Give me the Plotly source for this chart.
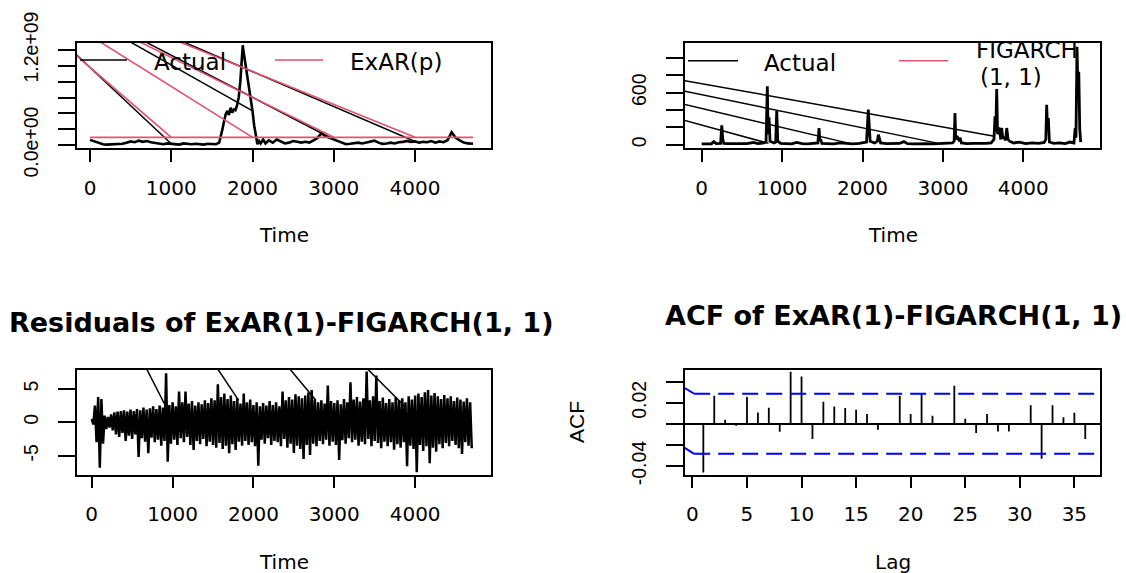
import plotly.graph_objects as go

W, H = 1126, 573
FONT = "DejaVu Sans"
NARROW = "Liberation Sans"
BLACK = "#000000"
RED = "#DF536B"
BLUE = "#0000FF"

# ---------------- data ----------------
time_ticks = [0, 1000, 2000, 3000, 4000]

# Top-left: actual series (units of 1e8) and ExAR(p) fit
actual_t = [0, 40, 80, 120, 160, 200, 250, 300, 350, 400, 450, 500, 550, 600, 650, 700, 750, 800,
            850, 900, 950, 1000, 1050, 1100, 1150, 1200, 1250, 1300, 1350, 1400, 1450, 1500, 1550,
            1590, 1610, 1630, 1650, 1670, 1690, 1710, 1730, 1750, 1770, 1790, 1810, 1830, 1850, 1865,
            1880, 1890, 1905, 1920, 1940, 1960, 1980, 2000, 2020, 2040, 2060, 2080, 2100, 2130, 2160,
            2200, 2250, 2300, 2350, 2400, 2450, 2500, 2550, 2600, 2650, 2700, 2750, 2800, 2850, 2900,
            2950, 3000, 3050, 3100, 3150, 3200, 3250, 3300, 3350, 3400, 3450, 3500, 3550, 3600, 3650,
            3700, 3750, 3800, 3850, 3900, 3950, 4000, 4050, 4100, 4150, 4200, 4250, 4300, 4350, 4400,
            4450, 4500, 4550, 4600, 4650, 4714]
actual_v = [0.65, 0.5, 0.35, 0.2, 0.1, 0.05, 0.08, 0.1, 0.05, 0.15, 0.3, 0.45, 0.35, 0.55, 0.4, 0.5, 0.35, 0.25,
            0.15, 0.1, 0.2, 0.15, 0.1, 0.05, 0.2, 0.15, 0.1, 0.15, 0.1, 0.05, 0.15, 0.1, 0.1,
            0.3, 1.0, 2.0, 3.0, 3.9, 4.3, 3.8, 4.7, 4.1, 4.5, 4.4, 5.0, 6.0, 8.0, 10.5,
            12.6, 11.8, 10.8, 9.8, 8.5, 7.2, 5.8, 4.3, 2.5, 1.0, 0.1, 0.5, 0.2, 0.7, 0.2,
            0.6, 0.3, 0.7, 0.4, 0.2, 0.3, 0.5, 0.4, 0.3, 0.4, 0.3, 0.6, 0.9, 1.5, 1.1,
            0.9, 0.7, 0.4, 0.2, 0.1, 0.15, 0.2, 0.3, 0.2, 0.35, 0.4, 0.55, 0.3, 0.15, 0.2,
            0.3, 0.2, 0.35, 0.4, 0.5, 0.4, 0.45, 0.3, 0.4, 0.35, 0.5, 0.3, 0.45, 0.35, 0.6,
            1.6, 0.9, 0.6, 0.3, 0.2, 0.15]
exar_t = [0, 4714]
exar_v = [0.97, 0.97]
actual_unit = 1e8
top_left_wrap_t = [1000, 2000, 3000, 4000]
actual_wrap_origin = [-1588, 25.1]
exar_wrap_origin = [-1662, 24.5]
tl_yticks = [0, 2e8, 4e8, 6e8, 8e8, 1e9, 1.2e9]
tl_yticktext = ["0.0e+00", "", "", "", "", "", "1.2e+09"]

# Top-right: FIGARCH(1,1) series
figarch_t = [0, 60, 120, 150, 180, 235, 249, 262, 275, 320, 400, 480, 560, 640, 700, 760, 800, 816, 826, 837,
             850, 900, 920, 933, 946, 980, 1050, 1120, 1180, 1250, 1320, 1400, 1445, 1459, 1470, 1480, 1495,
             1560, 1640, 1720, 1800, 1880, 1960, 2050, 2072, 2082, 2095, 2150, 2185, 2197, 2210, 2225, 2300,
             2380, 2460, 2514, 2560, 2640, 2720, 2800, 2880, 2960, 3040, 3120, 3140, 3150, 3160, 3175, 3205,
             3213, 3230, 3300, 3380, 3460, 3540, 3600, 3635, 3648, 3658, 3669, 3680, 3700, 3720, 3731, 3745,
             3760, 3780, 3794, 3810, 3830, 3880, 3950, 4030, 4110, 4190, 4260, 4280, 4291, 4300, 4311, 4325,
             4380, 4450, 4520, 4580, 4630, 4645, 4655, 4668, 4680, 4690, 4702, 4714]
figarch_v = [10, 12, 10, 35, 12, 15, 224, 60, 15, 12, 10, 14, 12, 25, 12, 18, 30, 673, 120, 316,
             40, 20, 30, 392, 40, 15, 12, 10, 25, 12, 10, 15, 20, 192, 40, 60, 15,
             12, 10, 20, 12, 10, 15, 30, 404, 250, 40, 20, 40, 115, 80, 20, 12,
             10, 14, 35, 12, 10, 15, 12, 10, 12, 15, 20, 40, 365, 60, 100, 40,
             80, 20, 12, 15, 12, 14, 20, 60, 327, 150, 642, 120, 200, 60, 192, 70,
             90, 50, 192, 60, 40, 20, 30, 12, 20, 15, 25, 60, 461, 200, 308, 30,
             15, 20, 12, 30, 20, 190, 80, 1130, 600, 842, 180, 30]
figarch_wrap_origin = [-5419, 1607]
figarch_wrap_t = [830, 1850, 2960, 3640]
figarch_wrap_v = [15, 12, 12, 97]
tr_yticks = [0, 200, 400, 600, 800, 1000]
tr_yticktext = ["0", "", "", "600", "", ""]

# Bottom-left: residual envelope (upper value at each step, lower value half a step later)
resid_step = 40
resid_upper = [0.5, 2.5, 3.8, 3.5, 1.0, 0.8, 1.2, 1.5, 1.6, 1.7,
               1.8, 1.6, 1.9, 1.7, 2.0, 1.8, 2.2, 1.9, 2.1, 2.4,
               2.0, 2.5, 2.2, 7.35, 2.6, 3.0, 2.4, 4.6, 3.0, 4.6,
               2.8, 3.2, 2.5, 3.0, 2.7, 3.3, 2.9, 3.6, 3.3, 5.7,
               3.8, 4.3, 3.5, 4.0, 3.2, 3.6, 2.8, 4.3, 3.0, 3.4,
               2.6, 3.0, 2.4, 2.9, 2.5, 3.2, 2.6, 3.0, 2.4, 4.6,
               3.3, 3.8, 3.4, 4.2, 3.9, 3.6, 4.0, 4.45, 4.85, 3.4,
               3.0, 3.3, 2.8, 5.5, 3.2, 2.9, 3.3, 2.7, 3.5, 3.0,
               6.0, 3.4, 3.8, 3.1, 3.6, 7.6, 3.3, 3.9, 7.0, 3.2,
               3.7, 2.9, 3.5, 3.0, 3.8, 3.3, 3.6, 3.0, 3.9, 3.4,
               4.0, 4.3, 3.8, 4.5, 4.85, 4.0, 4.4, 3.9, 3.5, 4.1,
               3.6, 3.9, 3.2, 3.7, 3.4, 3.1, 3.6, 3.0]
resid_lower = [-0.3, -3.0, -6.8, -3.2, -1.0, -0.8, -1.2, -1.8, -2.2, -1.6,
               -2.8, -2.0, -2.5, -1.8, -5.2, -2.4, -2.9, -4.65, -2.3, -3.0,
               -2.6, -3.5, -2.8, -5.9, -3.2, -2.6, -3.4, -2.4, -3.0, -2.2,
               -3.4, -4.15, -2.8, -3.3, -2.5, -3.6, -2.9, -3.4, -3.8, -3.1,
               -4.0, -3.5, -4.65, -3.3, -4.15, -2.9, -3.5, -2.8, -3.4, -3.0,
               -3.6, -6.5, -2.6, -3.2, -2.4, -3.4, -2.8, -3.0, -3.6, -2.5,
               -3.8, -3.2, -4.6, -3.5, -4.0, -5.5, -3.4, -4.9, -3.2, -3.6,
               -2.8, -3.3, -2.6, -3.5, -2.9, -3.4, -5.65, -2.7, -3.2, -2.4,
               -3.0, -2.6, -3.5, -2.9, -3.3, -2.5, -3.6, -2.8, -3.1, -3.9,
               -2.9, -3.6, -3.0, -4.1, -3.3, -3.8, -3.0, -6.6, -3.5, -4.0,
               -7.5, -3.4, -4.3, -3.6, -6.15, -3.8, -4.4, -3.3, -3.9, -3.1,
               -3.6, -2.8, -3.4, -3.9, -4.75, -3.0, -3.5, -3.9]
resid_wrap_origin = [-2184, 75.9]
resid_wrap_t = [907, 1817, 2771, 3880]
resid_wrap_v = [2.6, 3.3, 3.3, 2.3]
bl_yticks = [-5, 0, 5]

# Bottom-right: ACF
acf_lags = list(range(1, 37))
acf_vals = [-0.0461, 0.0265, 0.0038, -0.0019, 0.0253, 0.0107, 0.0152, -0.0076, 0.0493, 0.0449,
            -0.0145, 0.0209, 0.0164, 0.0149, 0.0133, 0.0092, -0.0057, 0.0005, 0.0265, 0.0092,
            0.0291, 0.0076, 0.0003, 0.036, 0.0047, -0.0088, 0.0092, -0.0073, -0.0073, 0.0002,
            0.0177, -0.0332, 0.0177, 0.0063, 0.0104, -0.0145]
ci_bound = 0.0285
ci_lag_span = [0.16, 37.5]
ci_stub_lag = [-0.7, 0.16]
ci_stub_upper = [0.0339, 0.0285]
ci_stub_lower = [-0.0229, -0.0286]
lag_ticks = [0, 5, 10, 15, 20, 25, 30, 35]
br_yticks = [-0.04, -0.02, 0, 0.02, 0.04]
br_yticktext = ["-0.04", "", "", "0.02", ""]

assert len(actual_t) == len(actual_v)
assert len(figarch_t) == len(figarch_v)
assert len(resid_upper) == len(resid_lower)


# ---------------- helpers ----------------
def px_x(x):
    return x / W


def px_y(y):
    return 1 - y / H


def wrap_lines(origin, ends_t, ends_v):
    xs, ys = [], []
    for t, v in zip(ends_t, ends_v):
        xs += [origin[0], t, None]
        ys += [origin[1], v, None]
    return xs, ys


fig = go.Figure()

# ---- top-left ----
fig.add_trace(go.Scatter(x=actual_t, y=[v * actual_unit for v in actual_v], mode="lines",
                         line=dict(color=BLACK, width=2.6), xaxis="x", yaxis="y"))
act_end_v = [actual_v[actual_t.index(t)] * actual_unit for t in top_left_wrap_t]
xs, ys = wrap_lines([actual_wrap_origin[0], actual_wrap_origin[1] * actual_unit], top_left_wrap_t, act_end_v)
fig.add_trace(go.Scatter(x=xs, y=ys, mode="lines", line=dict(color=BLACK, width=1.5), xaxis="x", yaxis="y"))
fig.add_trace(go.Scatter(x=exar_t, y=[v * actual_unit for v in exar_v], mode="lines",
                         line=dict(color=RED, width=1.8), xaxis="x", yaxis="y"))
xs, ys = wrap_lines([exar_wrap_origin[0], exar_wrap_origin[1] * actual_unit], top_left_wrap_t,
                    [exar_v[0] * actual_unit] * len(top_left_wrap_t))
fig.add_trace(go.Scatter(x=xs, y=ys, mode="lines", line=dict(color=RED, width=1.6), xaxis="x", yaxis="y"))

# ---- top-right ----
fig.add_trace(go.Scatter(x=figarch_t, y=figarch_v, mode="lines",
                         line=dict(color=BLACK, width=2.8), xaxis="x2", yaxis="y2"))
xs, ys = wrap_lines(figarch_wrap_origin, figarch_wrap_t, figarch_wrap_v)
fig.add_trace(go.Scatter(x=xs, y=ys, mode="lines", line=dict(color=BLACK, width=1.5), xaxis="x2", yaxis="y2"))

# ---- bottom-left ----
rx, ry = [], []
for k, (u, l) in enumerate(zip(resid_upper, resid_lower)):
    rx += [k * resid_step, k * resid_step + resid_step / 2]
    ry += [u, l]
fig.add_trace(go.Scatter(x=rx, y=ry, mode="lines", line=dict(color=BLACK, width=2.5),
                         xaxis="x3", yaxis="y3"))
xs, ys = wrap_lines(resid_wrap_origin, resid_wrap_t, resid_wrap_v)
fig.add_trace(go.Scatter(x=xs, y=ys, mode="lines", line=dict(color=BLACK, width=1.5), xaxis="x3", yaxis="y3"))

# ---- bottom-right ----
bx, by = [], []
for lag, v in zip(acf_lags, acf_vals):
    bx += [lag, lag, None]
    by += [0, v, None]
fig.add_trace(go.Scatter(x=bx, y=by, mode="lines", line=dict(color=BLACK, width=1.8), xaxis="x4", yaxis="y4"))
for sgn in (1, -1):
    fig.add_trace(go.Scatter(x=ci_lag_span, y=[sgn * ci_bound] * 2, mode="lines",
                             line=dict(color=BLUE, width=2, dash="16px,8px"), xaxis="x4", yaxis="y4"))
fig.add_trace(go.Scatter(x=ci_stub_lag, y=ci_stub_upper, mode="lines", line=dict(color=BLUE, width=2),
                         xaxis="x4", yaxis="y4"))
fig.add_trace(go.Scatter(x=ci_stub_lag, y=ci_stub_lower, mode="lines", line=dict(color=BLUE, width=2),
                         xaxis="x4", yaxis="y4"))

# ---------------- axes ----------------
common = dict(showline=True, mirror=True, linecolor=BLACK, linewidth=1.8, ticks="outside",
              tickcolor=BLACK, tickwidth=1.8, showgrid=False, zeroline=False, fixedrange=True,
              automargin=False)
xfont = dict(family=FONT, size=20, color=BLACK)
yfont = dict(family=NARROW, size=19.5, color=BLACK)

left_dom = [px_x(77), px_x(491)]
right_dom = [px_x(685), px_x(1100)]
top_dom = [px_y(147.7), px_y(42.7)]
bot_dom = [px_y(474.5), px_y(369.5)]


def xax(dom, rng, ticks, anchor):
    return dict(domain=dom, range=rng, tickvals=ticks, ticktext=[str(t) for t in ticks], ticklen=12,
                tickfont=xfont, ticklabelstandoff=9, anchor=anchor, **common)


def yax(dom, rng, ticks, text, anchor):
    return dict(domain=dom, range=rng, tickvals=ticks, ticktext=text, ticklen=17, tickangle=-90,
                tickfont=yfont, ticklabelstandoff=12, anchor=anchor, **common)


layout = dict(
    width=W, height=H, margin=dict(l=0, r=0, t=0, b=0, pad=0), autosize=False,
    paper_bgcolor="white", plot_bgcolor="white", showlegend=False, hovermode=False,
    xaxis=xax(left_dom, [-160, 4935], time_ticks, "y"),
    yaxis=yax(top_dom, [-0.34e8, 12.92e8], tl_yticks, tl_yticktext, "x"),
    xaxis2=xax(right_dom, [-208, 4954], time_ticks, "y2"),
    yaxis2=yax(top_dom, [-35, 1176], tr_yticks, tr_yticktext, "x2"),
    xaxis3=xax(left_dom, [-182, 4938], time_ticks, "y3"),
    yaxis3=yax(bot_dom, [-7.83, 7.92], bl_yticks, [str(t) for t in bl_yticks], "x3"),
    xaxis4=xax(right_dom, [-0.68, 37.35], lag_ticks, "y4"),
    yaxis4=yax(bot_dom, [-0.0481, 0.0515], br_yticks, br_yticktext, "x4"),
)
layout["yaxis4"]["zeroline"] = True
layout["yaxis4"]["zerolinecolor"] = BLACK
layout["yaxis4"]["zerolinewidth"] = 1.6
fig.update_layout(**layout)

# ---------------- text ----------------
def note(text, x, y, size, family=FONT, xanchor="center", angle=0, bold=False):
    fig.add_annotation(text=f"<b>{text}</b>" if bold else text, x=px_x(x), y=px_y(y), xref="paper",
                       yref="paper", showarrow=False, xanchor=xanchor, yanchor="middle", textangle=angle,
                       font=dict(family=family, size=size, color=BLACK))


note("Time", 284, 235, 20)
note("Time", 892.5, 235, 20)
note("Time", 284, 561.5, 20)
note("Lag", 892.5, 561.5, 20)
note("ACF", 576, 422, 21, family=NARROW, angle=-90)
note("Residuals of ExAR(1)-FIGARCH(1, 1)", 281, 323, 27, bold=True)
note("ACF of ExAR(1)-FIGARCH(1, 1)", 893, 315, 27, bold=True)

# legends
def legend_line(x0, x1, y, color):
    fig.add_shape(type="line", xref="paper", yref="paper", x0=px_x(x0), x1=px_x(x1), y0=px_y(y), y1=px_y(y),
                  line=dict(color=color, width=1.6))


legend_line(80, 127, 60, BLACK)
note("Actual", 152, 62.5, 23, xanchor="left")
legend_line(275, 323, 60, RED)
note("ExAR(p)", 348, 62, 23, xanchor="left")
legend_line(688, 738, 60.7, BLACK)
note("Actual", 761.7, 63, 23, xanchor="left")
legend_line(899, 948, 60.7, RED)
note("FIGARCH", 974, 50, 23, xanchor="left")
note("(1, 1)", 978, 77, 23, xanchor="left")

fig.write_html("out.html")
